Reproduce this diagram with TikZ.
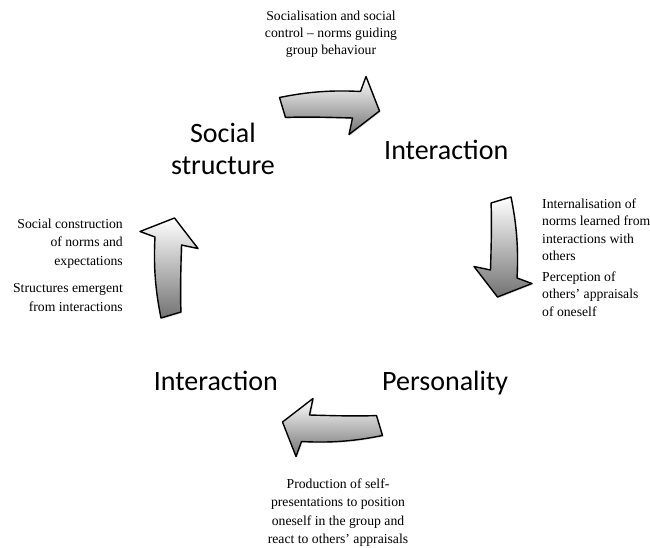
\documentclass[tikz,border=0pt]{standalone}
\usepackage{fontspec}
\setmainfont{Liberation Serif}
\newfontfamily\labelfont{Carlito}
\usetikzlibrary{shadows}
\begin{document}
\begin{tikzpicture}[x=1pt,y=-1pt,
  small/.style={font=\fontsize{13.7}{17.5}\selectfont, inner sep=0pt},
  bigl/.style={font=\labelfont\fontsize{28}{32}\selectfont, inner sep=0pt},
  arrowshape/.style={draw=black, line width=1.4pt, line join=round, top color=white, bottom color=black!55,
    drop shadow={opacity=0.25, shadow xshift=1.2pt, shadow yshift=-1.2pt}},
  cyc/.pic={\path[arrowshape] (-50,-8) .. controls (-30,-12) and (-5,-16) .. (31,-14) -- (36.5,-29) -- (50,5.5) -- (19.5,29) -- (23,12.5) .. controls (5,12) and (-25,11) .. (-44,12) -- cycle;}
]
\useasboundingbox (0,0) rectangle (650,548);
% arrows
\pic (atop) at (329.5,105.5) {cyc};
\pic[rotate=-90] (aright) at (503,247) {cyc};
\pic[rotate=180] (abottom) at (332.5,427.5) {cyc};
\pic[rotate=90] (aleft) at (169,268) {cyc};
% big labels
\node[bigl, align=center, anchor=base] (ss) at (223,175) {Social\\structure};
\node[bigl, anchor=base west] (int1) at (384,160) {Interaction};
\node[bigl, anchor=base west] (pers) at (382,390) {Personality};
\node[bigl, anchor=base east] (int2) at (278,390) {Interaction};
% small texts
\node[small, align=center, anchor=north, font=\fontsize{13.7}{16.7}\selectfont] (ttop) at (331,11) {Socialisation and social\\control -- norms guiding\\group behaviour};
\node[small, align=left, anchor=north west] (tr1) at (542,198.6) {Internalisation of\\norms learned from\\interactions with\\others};
\node[small, align=left, anchor=north west] (tr2) at (542,271.6) {Perception of\\others’ appraisals\\of oneself};
\node[small, align=right, anchor=north east, font=\fontsize{13.7}{18.5}\selectfont] (tl1) at (123,218.6) {Social construction\\of norms and\\expectations};
\node[small, align=right, anchor=north east, font=\fontsize{13.7}{18.5}\selectfont] (tl2) at (123,283.6) {Structures emergent\\from interactions};
\node[small, align=center, anchor=north, font=\fontsize{13.7}{18.3}\selectfont] (tb) at (338,478.6) {Production of self-\\presentations to position\\oneself in the group and\\react to others’ appraisals};
\end{tikzpicture}
\end{document}
